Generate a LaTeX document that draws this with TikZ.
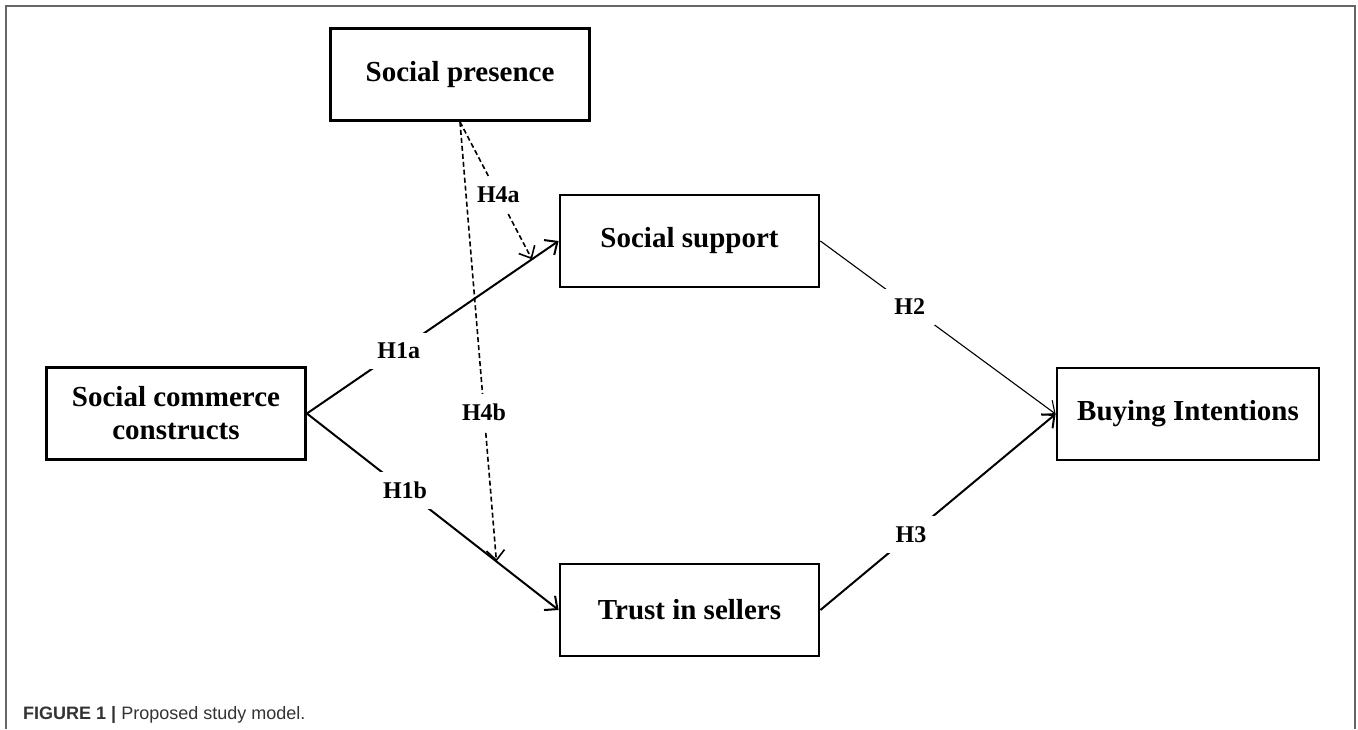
\documentclass[tikz,border=0pt]{standalone}
\usepackage{fontspec}
\setmainfont{Liberation Serif}
\newfontfamily\capfont{Liberation Sans}
\usetikzlibrary{arrows.meta}

\tikzset{
  box/.style={draw, line width=2.8pt, minimum width=259pt, minimum height=92pt,
    align=center, font=\bfseries\fontsize{29}{33}\selectfont},
  hyp/.style={fill=white, inner sep=10pt, font=\bfseries\fontsize{24}{28}\selectfont},
  link/.style={->, line width=2pt},
  mod/.style={->, line width=1.6pt, dash pattern=on 5pt off 3pt},
}

\begin{document}
\begin{tikzpicture}[x=1pt, y=-1pt, >={Straight Barb[length=10pt,width=18pt]}]
    \useasboundingbox (0,0) rectangle (1358,729);
    % outer frame
    \draw[line width=1.6pt, black!60] (6,729) -- (6,6) -- (1355,6) -- (1355,729);

    \node[box] (sp) at (460,74.5) {Social presence};
    \node[box] (scc) at (176,413.5) {Social commerce\\constructs};
    \node[box] (ss) at (689.5,241) {Social support};
    \node[box] (tis) at (689.5,610) {Trust in sellers};
    \node[box, minimum width=262pt] (bi) at (1188,414) {Buying Intentions};

    \draw[link] (scc.east) -- node[hyp, pos=0.365] {H1a} (ss.west);
    \draw[link] (scc.east) -- node[hyp, pos=0.39] {H1b} (tis.west);
    \draw[->, line width=1.1pt] (ss.east) -- node[hyp, pos=0.38] {H2} (bi.west);
    \draw[link] (tis.east) -- node[hyp, pos=0.385] {H3} (bi.west);

    % moderation
    \path (scc.east) -- (ss.west) coordinate[pos=0.894] (h4a);
    \path (scc.east) -- (tis.west) coordinate[pos=0.753] (h4b);
    \draw[mod] (sp.south) -- node[hyp, pos=0.533] {H4a} (h4a);
    \draw[mod] (sp.south) -- node[hyp, pos=0.66] {H4b} (h4b);

    \node[anchor=base west, inner sep=0pt, text=black!80,
      font=\capfont\fontsize{18}{20}\selectfont] (cap) at (23,719)
      {\textbf{FIGURE 1 |} Proposed study model.};
\end{tikzpicture}
\end{document}
